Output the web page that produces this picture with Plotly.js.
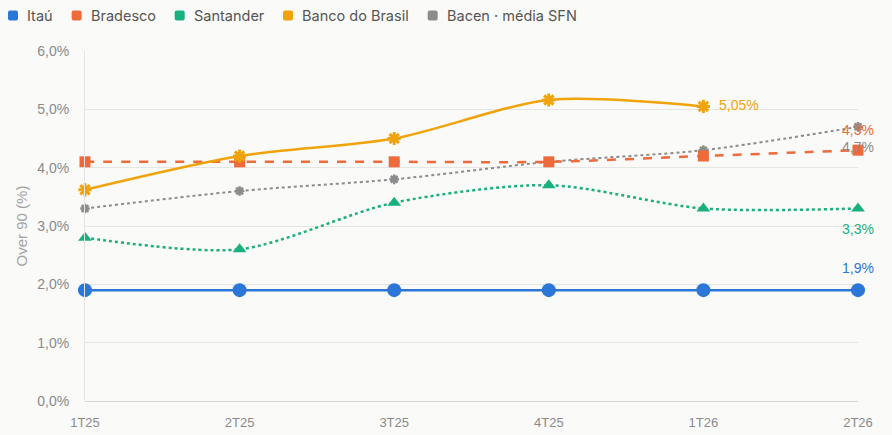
<!DOCTYPE html>
<html>
<head>
<meta charset="utf-8">
<script src="https://cdn.plot.ly/plotly-3.0.1.min.js"></script>
<style>
  html, body { margin: 0; padding: 0; background: #fafaf9; }
  #chart { width: 892px; height: 435px; }
</style>
</head>
<body>
<div id="chart"></div>
<script>
// quarters on the x axis
var quarters = ['1T25', '2T25', '3T25', '4T25', '1T26', '2T26'];

// Over 90 (%) by bank
var itau = [1.9, 1.9, 1.9, 1.9, 1.9, 1.9];
var bradesco = [4.1, 4.1, 4.1, 4.1, 4.2, 4.3];
var santander = [2.8, 2.6, 3.4, 3.7, 3.3, 3.3];
var bancoBrasil = [3.62, 4.2, 4.5, 5.16, 5.05, null];
var bacen = [3.3, 3.6, 3.8, 4.1, 4.3, 4.7];

var names = ['Itaú', 'Bradesco', 'Santander', 'Banco do Brasil', 'Bacen · média SFN'];
var palette = ['#2a77d8', '#ef6a3a', '#1aaf7e', '#f0a30a', '#8c8c8c'];

// plot box in pixels (matches margins below)
var M = { l: 85, r: 34, t: 51, b: 34 };
var W = 892, H = 435;
var pw = W - M.l - M.r, ph = H - M.t - M.b;
function px2x(p) { return (p - M.l) / pw; }
function px2y(p) { return (H - M.b - p) / ph; }

function series(name, y, color, dash, width, symbol, size, lw) {
  return {
    x: quarters,
    y: y,
    name: name,
    type: 'scatter',
    mode: 'lines+markers',
    line: { color: color, width: width, dash: dash, shape: 'spline', smoothing: 0.8 },
    marker: { symbol: symbol, size: size, color: color, line: { color: color, width: lw } },
    cliponaxis: false,
    showlegend: false,
    hoverinfo: 'x+y+name'
  };
}

// label for a value, pt-BR style
function fmt(v, digits) {
  return v.toFixed(digits).replace('.', ',') + '%';
}
function endLabel(y, i, digits, color, xshift, yshift, anchor) {
  return {
    x: quarters[i], y: y[i], xref: 'x', yref: 'y',
    text: fmt(y[i], digits), showarrow: false,
    xanchor: anchor, yanchor: 'middle',
    xshift: xshift, yshift: yshift,
    font: { family: 'Liberation Sans, Arial, sans-serif', size: 14, color: color }
  };
}

var data = [
  series(names[4], bacen, palette[4], 'dot', 2, 'asterisk-open', 8, 2.5),
  series(names[2], santander, palette[2], 'dot', 2.5, 'triangle-up', 12, 0),
  series(names[1], bradesco, palette[1], 'dash', 2.5, 'square', 11, 0),
  series(names[3], bancoBrasil, palette[3], 'solid', 2.5, 'asterisk-open', 11, 3),
  series(names[0], itau, palette[0], 'solid', 2.5, 'circle', 14, 0)
];

var annotations = [
  endLabel(itau, 5, 1, palette[0], 0, 22, 'center'),
  endLabel(santander, 5, 1, palette[2], 0, -20, 'center'),
  endLabel(bradesco, 5, 1, palette[1], 0, 20, 'center'),
  endLabel(bacen, 5, 1, palette[4], 0, -20, 'center'),
  endLabel(bancoBrasil, 4, 2, palette[3], 14, 1, 'left')
];

// legend drawn by hand: rounded swatch + name, laid out by measured text width
var legendSize = 14.5;
var shapes = [];
var ctx = document.createElement('canvas').getContext('2d');
ctx.font = legendSize + 'px Inter';
var lx = 8;
names.forEach(function (n, i) {
  var x0 = lx, x1 = lx + 10, y0 = 10.5, y1 = 20.5, r = 2;
  var path = 'M' + px2x(x0 + r) + ',' + px2y(y0) +
    ' L' + px2x(x1 - r) + ',' + px2y(y0) +
    ' Q' + px2x(x1) + ',' + px2y(y0) + ' ' + px2x(x1) + ',' + px2y(y0 + r) +
    ' L' + px2x(x1) + ',' + px2y(y1 - r) +
    ' Q' + px2x(x1) + ',' + px2y(y1) + ' ' + px2x(x1 - r) + ',' + px2y(y1) +
    ' L' + px2x(x0 + r) + ',' + px2y(y1) +
    ' Q' + px2x(x0) + ',' + px2y(y1) + ' ' + px2x(x0) + ',' + px2y(y1 - r) +
    ' L' + px2x(x0) + ',' + px2y(y0 + r) +
    ' Q' + px2x(x0) + ',' + px2y(y0) + ' ' + px2x(x0 + r) + ',' + px2y(y0) + ' Z';
  shapes.push({
    type: 'path', xref: 'paper', yref: 'paper', path: path,
    fillcolor: palette[i], line: { width: 0 }
  });
  annotations.push({
    xref: 'paper', yref: 'paper', x: px2x(lx + 17), y: px2y(15.5),
    xanchor: 'left', yanchor: 'middle', showarrow: false, text: n,
    font: { family: 'Inter, sans-serif', size: legendSize, color: '#555555' }
  });
  lx += 17 + ctx.measureText(n).width + 21;
});

var layout = {
  width: W,
  height: H,
  paper_bgcolor: '#fafaf9',
  plot_bgcolor: '#fafaf9',
  margin: M,
  font: { family: 'Liberation Sans, Arial, sans-serif', color: '#8a8a8a', size: 14 },
  showlegend: false,
  annotations: annotations,
  shapes: shapes,
  xaxis: {
    type: 'category',
    range: [0, 5],
    showgrid: false,
    showline: false,
    zeroline: false,
    ticks: '',
    ticklabelstandoff: 12,
    tickfont: { size: 13, color: '#8a8a8a' },
    fixedrange: true
  },
  yaxis: {
    range: [0, 6],
    dtick: 1,
    tickformat: '.1f',
    ticksuffix: '%',
    showgrid: true,
    gridcolor: '#e5e5e3',
    showline: true,
    linecolor: '#e5e5e3',
    linewidth: 1,
    zeroline: true,
    zerolinecolor: '#d4d4d2',
    zerolinewidth: 1,
    ticks: '',
    ticklabelstandoff: 12,
    tickfont: { size: 14, color: '#8a8a8a' },
    title: { text: 'Over 90 (%)', font: { size: 15, color: '#a3a3a3' }, standoff: 6 },
    fixedrange: true
  },
  separators: ',.'
};

Plotly.newPlot('chart', data, layout, { displayModeBar: false, staticPlot: true });
</script>
</body>
</html>
